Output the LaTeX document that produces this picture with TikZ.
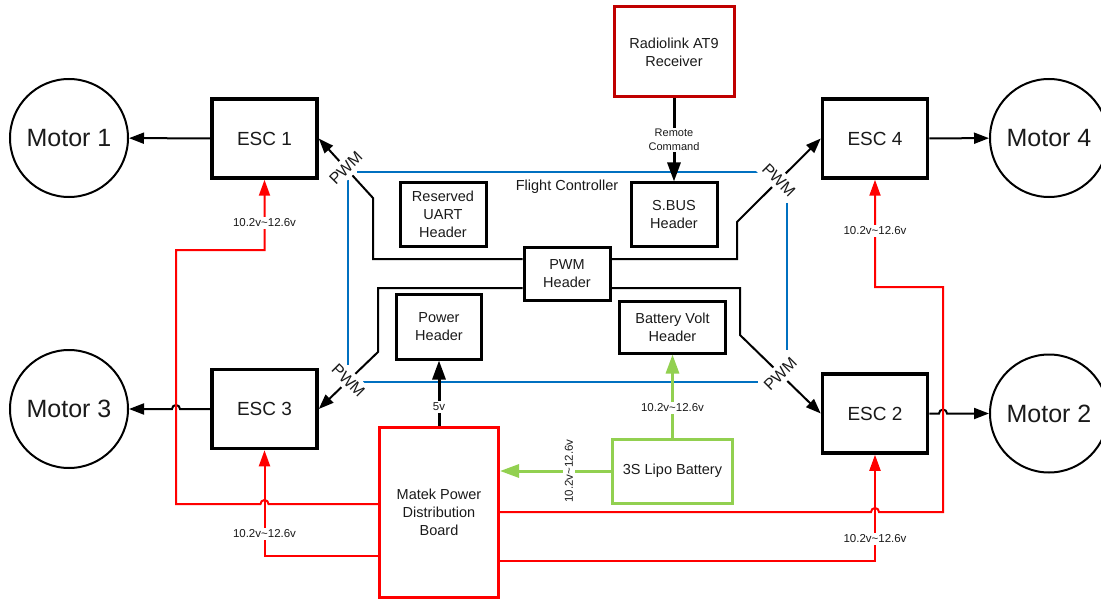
\documentclass[tikz,border=0pt]{standalone}
\usepackage{fontspec}
\setmainfont{Liberation Sans}
\usetikzlibrary{arrows.meta}
\definecolor{fcblue}{HTML}{0070C0}
\definecolor{pred}{HTML}{FF0000}
\definecolor{rxred}{HTML}{C00000}
\definecolor{lgreen}{HTML}{92D050}
\definecolor{txt}{HTML}{1A1A1A}
\begin{document}
\begin{tikzpicture}[x=1pt,y=-1pt,
  every node/.style={text=txt, align=center},
  motor/.style={circle, draw=black, line width=2pt, minimum size=118pt, inner sep=0pt, font=\fontsize{25}{28}\selectfont},
  esc/.style={draw=black, line width=3.5pt, minimum width=105pt, minimum height=79pt, inner sep=0pt, font=\fontsize{19}{22}\selectfont},
  hdr/.style={draw=black, line width=3pt, inner sep=0pt, font=\fontsize{14.5}{18}\selectfont},
  lab/.style={fill=white, inner sep=1.5pt, font=\fontsize{11.5}{14}\selectfont},
  pwmlab/.style={fill=white, inner sep=4pt, font=\fontsize{16}{18}\selectfont},
  sig/.style={draw=black, line width=2pt, -{Triangle[length=15pt,width=11pt]}},
  bsig/.style={draw=black, line width=3pt, -{Triangle[length=19pt,width=13pt]}},
  pw/.style={draw=pred, line width=2pt, -{Triangle[length=16pt,width=11pt]}},
  gr/.style={draw=lgreen, line width=3pt, -{Triangle[length=19pt,width=13pt]}},
  fcline/.style={draw=fcblue, line width=2pt}
]
\useasboundingbox (0,0) rectangle (1101,599);

% motors
\node[motor] (m1) at (69,138) {Motor 1};
\node[motor] (m3) at (69,409) {Motor 3};
\node[motor] (m4) at (1049,138) {Motor 4};
\node[motor] (m2) at (1049,413.5) {Motor 2};

% ESCs
\node[esc] (esc1) at (264.5,138.5) {ESC 1};
\node[esc] (esc3) at (264.5,409) {ESC 3};
\node[esc] (esc4) at (875,138.5) {ESC 4};
\node[esc] (esc2) at (875,413.5) {ESC 2};

% receiver, headers, power
\node[hdr, draw=rxred, minimum width=120pt, minimum height=90pt] (rx) at (674,52) {Radiolink AT9\\Receiver};
\node[hdr, minimum width=86pt, minimum height=63pt] (uart) at (443,214.5) {Reserved\\UART\\Header};
\node[hdr, minimum width=86pt, minimum height=63pt] (sbus) at (674,214.5) {S.BUS\\Header};
\node[hdr, minimum width=86pt, minimum height=53pt] (pwmh) at (567,273.5) {PWM\\Header};
\node[hdr, minimum width=85pt, minimum height=65pt] (powh) at (439,326.5) {Power\\Header};
\node[hdr, minimum width=106pt, minimum height=52pt] (batv) at (672.5,327) {Battery Volt\\Header};
\node[hdr, draw=lgreen, minimum width=120pt, minimum height=64pt] (lipo) at (672.5,471) {3S Lipo Battery};
\node[hdr, draw=pred, minimum width=119pt, minimum height=170pt] (pdb) at (439,512) {Matek Power\\Distribution\\Board};
\node[font=\fontsize{14.5}{18}\selectfont] (fc) at (567,187) {Flight Controller};

% flight controller outline (with gaps at the PWM labels)
\draw[fcline] (357,172) -- (758,172);
\draw[fcline] (787,203) -- (787,350);
\draw[fcline] (363,382) -- (758,382);
\draw[fcline] (348,180) -- (348,365);

% motor drives
\draw[sig] (esc1) -- (m1);
\draw[sig] (esc4) -- (m4);
\draw[sig] (esc3.west) -- (180,409) arc[start angle=0, end angle=180, radius=4pt] -- (m3);
\draw[sig] (esc2.east) -- (939,413.5) arc[start angle=180, end angle=0, radius=4pt] -- (m2);

% PWM signals
\draw[sig] (pwmh.west |- 0,259) -- (373,259) -- (373,198) -- node[pwmlab, rotate=45] (p1) {PWM} (esc1.east);
\draw[sig] (pwmh.east |- 0,259) -- (737,259) -- (737,222) -- node[pwmlab, rotate=-45] (p4) {PWM} (esc4.west);
\draw[sig] (pwmh.west |- 0,288) -- (378,288) -- (378,352) -- node[pwmlab, rotate=-45] (p3) {PWM} (esc3.east);
\draw[sig] (pwmh.east |- 0,288) -- (740,288) -- (740,335) -- node[pwmlab, rotate=45] (p2) {PWM} (esc2.west);

% remote command
\draw[bsig] (rx.south) -- (sbus.north);
\node[lab, font=\fontsize{11}{14}\selectfont] (rc) at (674,140) {Remote\\Command};

% 5v
\draw[bsig] (pdb.north) -- (powh.south);
\node[lab] (l5v) at (439,407) {5v};

% battery
\draw[gr] (lipo.north) -- (batv.south);
\node[lab] (lb1) at (672.5,408) {10.2v\textasciitilde 12.6v};
\draw[gr] (lipo.west) -- (pdb.east |- lipo.west);
\node[lab, rotate=90] (lb2) at (569,471) {10.2v\textasciitilde 12.6v};

% power to ESCs
\draw[pw] (pdb.west |- 0,504) -- (268.5,504) arc[start angle=0, end angle=180, radius=4pt] -- (176,504) -- (176,250) -- (264.5,250) -- (esc1.south);
\node[lab] (le1) at (264.5,223) {10.2v\textasciitilde 12.6v};
\draw[pw] (pdb.west |- 0,556) -- (264.5,556) -- (esc3.south);
\node[lab] (le3) at (264.5,534) {10.2v\textasciitilde 12.6v};
\draw[pw] (pdb.east |- 0,512) -- (871,512) arc[start angle=180, end angle=0, radius=4pt] -- (943,512) -- (943,287) -- (875,287) -- (esc4.south);
\node[lab] (le4) at (875,231) {10.2v\textasciitilde 12.6v};
\draw[pw] (pdb.east |- 0,561) -- (875,561) -- (esc2.south);
\node[lab] (le2) at (875,539) {10.2v\textasciitilde 12.6v};
\end{tikzpicture}
\end{document}
